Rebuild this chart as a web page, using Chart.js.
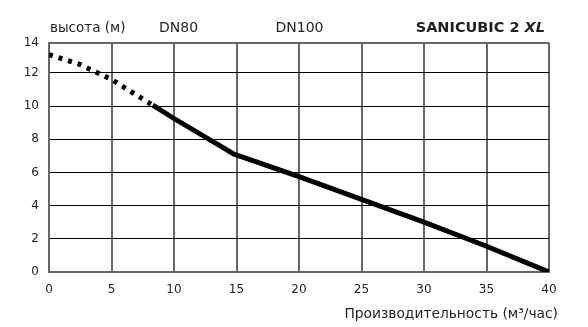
<!DOCTYPE html>
<html>
<head>
<meta charset="utf-8">
<script src="https://cdn.jsdelivr.net/npm/chart.js@4/dist/chart.umd.min.js"></script>
<style>
  html, body { margin: 0; padding: 0; background: #fff; }
  #wrap { width: 588px; height: 327px; position: relative; }
</style>
</head>
<body>
<div id="wrap"><canvas id="c" width="588" height="327"></canvas></div>
<script>
// ---- data ----
const dottedX = [0, 2.5, 5, 8.3];
const dottedY = [13.1, 12.5, 11.6, 10.05];
const solidX  = [8.3, 10, 14.8, 20, 30, 35, 40];
const solidY  = [10.05, 9.25, 7.1, 5.75, 3.0, 1.55, 0];

const xTicks = [0, 5, 10, 15, 20, 25, 30, 35, 40];
const yTicks = [0, 2, 4, 6, 8, 10, 12, 14];
const yTickLabels = ['0', '2', '4', '6', '8', '10', '12', '14'];

const yLabel = 'высота (м)';
const pipeLabels = ['DN80', 'DN100'];
const modelName = 'SANICUBIC 2 ';
const modelSuffix = 'XL';
const xTitle = 'Производительность (м³/час)';

const FONT = "'DejaVu Sans', sans-serif";
const TXT = '#231f20';
const GRID_GRAY = '#666666';

const toPts = (xs, ys) => xs.map((x, i) => ({ x: x, y: ys[i] }));

const textPlugin = {
  id: 'textPlugin',
  afterDraw(chart) {
    const ctx = chart.ctx;
    ctx.save();
    ctx.fillStyle = TXT;
    ctx.textBaseline = 'alphabetic';
    ctx.font = '13.5px ' + FONT;
    ctx.textAlign = 'left';
    ctx.fillText(yLabel, 50, 31.5);
    ctx.font = '14px ' + FONT;
    ctx.textAlign = 'center';
    ctx.fillText(pipeLabels[0], 178.5, 31.5);
    ctx.fillText(pipeLabels[1], 299.5, 31.5);
    // model name, right aligned, with italic suffix
    ctx.textAlign = 'right';
    ctx.font = 'italic bold 14.5px ' + FONT;
    const right = 545;
    ctx.fillText(modelSuffix, right, 31.5);
    const sw = ctx.measureText(modelSuffix).width;
    ctx.font = 'bold 14.5px ' + FONT;
    ctx.fillText(modelName, right - sw, 31.5);
    // x axis title
    ctx.font = '13.8px ' + FONT;
    ctx.textAlign = 'right';
    ctx.fillText(xTitle, 558, 318);
    ctx.restore();
  }
};

new Chart(document.getElementById('c'), {
  type: 'line',
  data: {
    datasets: [
      {
        data: toPts(dottedX, dottedY),
        borderColor: '#000',
        borderWidth: 5,
        borderDash: [4, 6],
        borderCapStyle: 'butt',
        pointRadius: 0,
        tension: 0,
        fill: false
      },
      {
        data: toPts(solidX, solidY),
        borderColor: '#000',
        borderWidth: 5,
        borderCapStyle: 'butt',
        borderJoinStyle: 'round',
        pointRadius: 0,
        tension: 0,
        fill: false
      }
    ]
  },
  options: {
    responsive: false,
    animation: false,
    events: [],
    layout: { padding: { left: 0, right: 39, top: 43, bottom: 0 } },
    plugins: { legend: { display: false }, tooltip: { enabled: false } },
    scales: {
      x: {
        type: 'linear',
        min: 0, max: 40,
        afterBuildTicks: s => { s.ticks = xTicks.map(v => ({ value: v })); },
        afterFit: s => { s.height = 55; },
        ticks: {
          color: TXT, font: { family: FONT, size: 12 }, padding: 11,
          maxRotation: 0, autoSkip: false,
          callback: v => String(v)
        },
        grid: { color: GRID_GRAY, lineWidth: 2, drawTicks: false },
        border: { color: GRID_GRAY, width: 2 }
      },
      y: {
        type: 'linear',
        min: 0, max: 13.8,
        afterBuildTicks: s => { s.ticks = yTicks.map(v => ({ value: Math.min(v, s.max) })); },
        afterFit: s => { s.width = 49; },
        ticks: {
          color: TXT, font: { family: FONT, size: 12 }, padding: 10,
          autoSkip: false,
          callback: (v, i) => yTickLabels[i]
        },
        grid: {
          drawTicks: false,
          color: ctx => (ctx.index === yTicks.length - 1 || ctx.index === 0) ? GRID_GRAY : '#000',
          lineWidth: ctx => (ctx.index === yTicks.length - 1 || ctx.index === 0) ? 2 : 1
        },
        border: { color: GRID_GRAY, width: 2 }
      }
    }
  },
  plugins: [textPlugin]
});
</script>
</body>
</html>
